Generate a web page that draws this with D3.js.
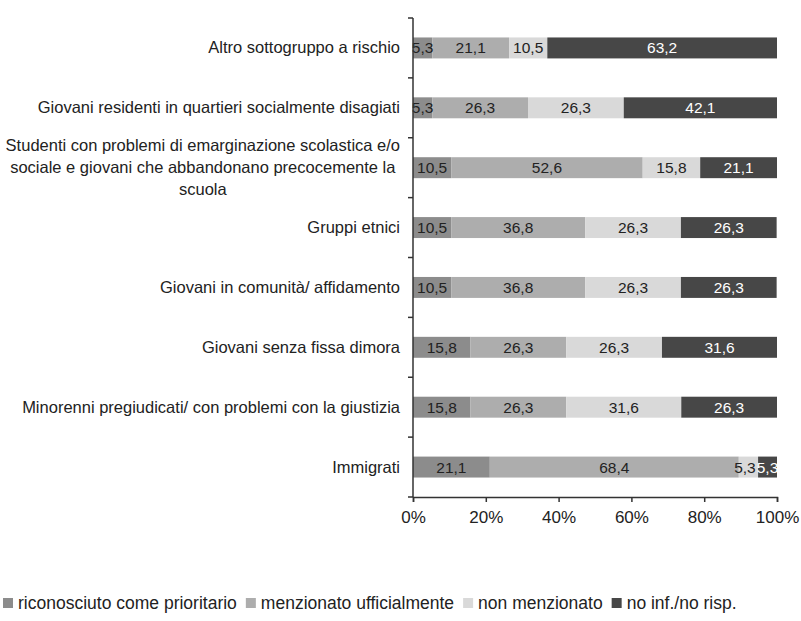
<!DOCTYPE html>
<html>
<head>
<meta charset="utf-8">
<script src="https://cdn.jsdelivr.net/npm/d3@7"></script>
<style>
  body { margin: 0; background: #fff; }
  svg { display: block; font-family: "Liberation Sans", Arial, sans-serif; }
</style>
</head>
<body>
<svg id="chart" width="801" height="621"></svg>
<script>
// Categories, top to bottom
const categories = [
  'Altro sottogruppo a rischio',
  'Giovani residenti in quartieri socialmente disagiati',
  'Studenti con problemi di emarginazione scolastica e/o|sociale e giovani che abbandonano precocemente la|scuola',
  'Gruppi etnici',
  'Giovani in comunità/ affidamento',
  'Giovani senza fissa dimora',
  'Minorenni pregiudicati/ con problemi con la giustizia',
  'Immigrati'
];

const seriesNames = ['riconosciuto come prioritario', 'menzionato ufficialmente', 'non menzionato', 'no inf./no risp.'];
const seriesColors = ['#8c8c8c', '#adadad', '#d9d9d9', '#474747'];
const labelColors = ['#222', '#222', '#222', '#fff'];

const riconosciuto = [5.3, 5.3, 10.5, 10.5, 10.5, 15.8, 15.8, 21.1];
const menzionato   = [21.1, 26.3, 52.6, 36.8, 36.8, 26.3, 26.3, 68.4];
const nonMenzionato = [10.5, 26.3, 15.8, 26.3, 26.3, 26.3, 31.6, 5.3];
const noInf        = [63.2, 42.1, 21.1, 26.3, 26.3, 31.6, 26.3, 5.3];

const xTicks = [0, 20, 40, 60, 80, 100];

const svg = d3.select('#chart');
const margin = { left: 413, right: 24, top: 18, bottom: 124 };
const width = 801, height = 621;

const x = d3.scaleLinear().domain([0, 100]).range([margin.left, width - margin.right]);
const y = d3.scaleBand().domain(d3.range(categories.length))
  .range([margin.top, height - margin.bottom]).paddingInner(0.65).paddingOuter(0.325);

const rows = categories.map((c, i) => ({
  name: c,
  values: [riconosciuto[i], menzionato[i], nonMenzionato[i], noInf[i]]
}));

// Bars
const barLayer = svg.append('g');
const labelLayer = svg.append('g');
rows.forEach((row, i) => {
  let acc = 0;
  const labels = [];
  row.values.forEach((v, s) => {
    const x0 = acc;
    acc += v;
    const x1 = Math.min(acc, 100);
    barLayer.append('rect')
      .attr('x', x(x0))
      .attr('y', y(i))
      .attr('width', x(x1) - x(x0))
      .attr('height', y.bandwidth())
      .attr('fill', seriesColors[s]);
    labels.push(labelLayer.append('text')
      .attr('x', (x(x0) + x(x1)) / 2)
      .attr('y', y(i) + y.bandwidth() / 2 + 5.5)
      .attr('text-anchor', 'middle')
      .attr('font-size', '15.5px')
      .attr('fill', labelColors[s])
      .text(d3.format('.1f')(v).replace('.', ',')));
  });
  // nudge labels of tiny segments so they don't sit on top of each other
  for (let k = labels.length - 2; k >= 0; k--) {
    const a = labels[k].node().getBBox();
    const b = labels[k + 1].node().getBBox();
    const overlap = a.x + a.width - b.x;
    if (overlap > 0) labels[k].attr('x', +labels[k].attr('x') - overlap - 1);
  }
});

// Y axis line with ticks between categories
const axisX = x(0);
svg.append('line')
  .attr('x1', axisX).attr('x2', axisX)
  .attr('y1', margin.top).attr('y2', height - margin.bottom)
  .attr('stroke', '#333').attr('stroke-width', 1.5);
d3.range(categories.length + 1).forEach(k => {
  const yy = margin.top + k * y.step();
  svg.append('line')
    .attr('x1', axisX - 5).attr('x2', axisX)
    .attr('y1', yy).attr('y2', yy)
    .attr('stroke', '#333').attr('stroke-width', 1.5);
});

// X axis
const xAxis = svg.append('g')
  .attr('transform', `translate(0,${height - margin.bottom})`)
  .call(d3.axisBottom(x).tickValues(xTicks).tickSize(5).tickFormat(d => d + '%'));
xAxis.select('.domain').attr('stroke', '#333').attr('stroke-width', 1.5);
xAxis.selectAll('.tick line').attr('stroke', '#333').attr('stroke-width', 1.5);
xAxis.selectAll('.tick text')
  .attr('font-size', '17px')
  .attr('fill', '#222')
  .attr('font-family', '"Liberation Sans", Arial, sans-serif')
  .attr('dy', '1.05em');

// Category labels
const labelRight = 400;
rows.forEach((row, i) => {
  const lines = row.name.split('|');
  const cy = y(i) + y.bandwidth() / 2;
  const lh = 22;
  const g = svg.append('g');
  const texts = lines.map((ln, k) => g.append('text')
    .attr('y', cy + (k - (lines.length - 1) / 2) * lh + 5.5)
    .attr('font-size', '16.5px')
    .attr('fill', '#222')
    .text(ln));
  const widest = d3.max(texts, t => t.node().getComputedTextLength());
  texts.forEach(t => t.attr('x', labelRight - widest / 2).attr('text-anchor', 'middle'));
});

// Legend
let lx = 3;
const ly = 609;
seriesNames.forEach((name, s) => {
  svg.append('rect')
    .attr('x', lx).attr('y', ly - 11)
    .attr('width', 10).attr('height', 10)
    .attr('fill', seriesColors[s]);
  const t = svg.append('text')
    .attr('x', lx + 15).attr('y', ly)
    .attr('font-size', '17.5px')
    .attr('fill', '#222')
    .text(name);
  lx += 15 + t.node().getComputedTextLength() + 9;
});
</script>
</body>
</html>
